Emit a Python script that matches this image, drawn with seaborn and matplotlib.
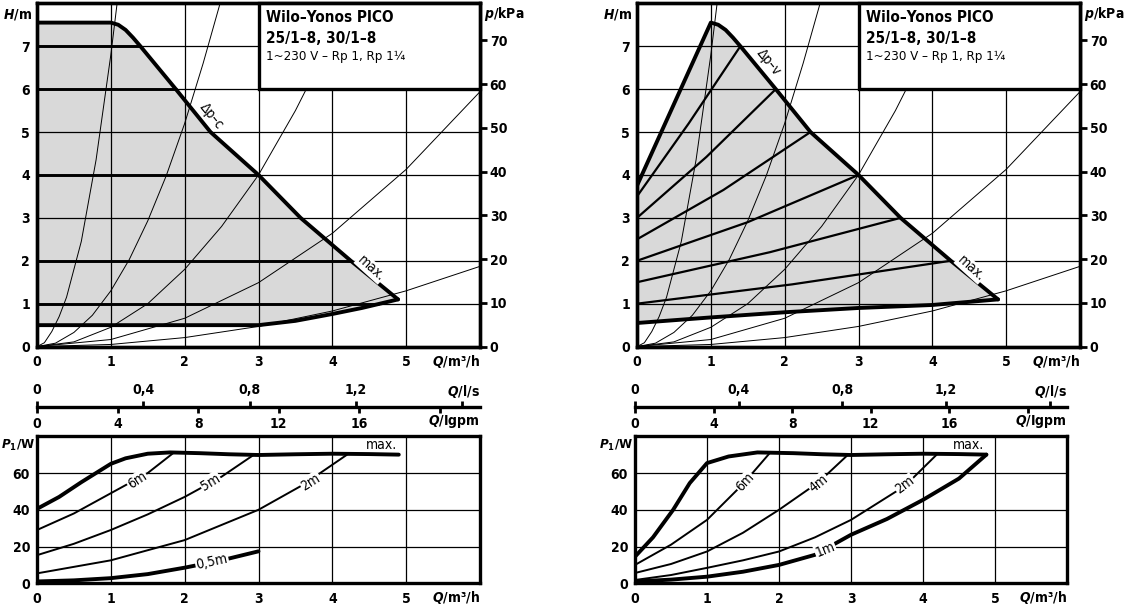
import matplotlib
matplotlib.use("Agg")
import matplotlib.pyplot as plt
import matplotlib.font_manager as fm
from matplotlib.patches import Rectangle
import seaborn as sns

# Anlagenkennlinien (duenne Parabeln), Q in m3/h, H in m
sys_a_q = [0, 0.1, 0.2, 0.3, 0.4, 0.6, 0.8, 1.0, 1.085]
sys_a_h = [0, 0.09, 0.35, 0.7, 1.15, 2.45, 4.35, 6.8, 8.0]
sys_b_q = [0, 0.25, 0.5, 0.75, 1.0, 1.25, 1.5, 1.75, 2.0, 2.25, 2.48]
sys_b_h = [0, 0.08, 0.33, 0.73, 1.3, 2.03, 2.93, 3.98, 5.2, 6.6, 8.0]
sys_c_q = [0, 0.5, 1.0, 1.5, 2.0, 2.5, 3.0, 3.5, 4.0, 4.2]
sys_c_h = [0, 0.11, 0.45, 1.0, 1.8, 2.8, 4.0, 5.5, 7.2, 7.95]
sys_d_q = [0, 1, 2, 3, 4, 5, 6]
sys_d_h = [0, 0.165, 0.66, 1.49, 2.64, 4.13, 5.94]
sys_e_q = [0, 1, 2, 3, 4, 5, 6]
sys_e_h = [0, 0.05, 0.21, 0.47, 0.83, 1.3, 1.87]

# max. Kennlinie (beide Regelarten)
max_q = [1.0, 1.1, 1.2, 1.3, 1.4, 1.88, 2.35, 3.0, 3.57, 4.25, 4.89]
max_h = [7.55, 7.5, 7.38, 7.2, 7.0, 6.0, 5.0, 4.0, 3.0, 2.0, 1.1]

# dp-c: Startpunkt bei Q=0 und untere Grenze
dpc_start_h = 7.55
dpc_low_q = [0, 3.0, 3.5, 4.0, 4.4, 4.89]
dpc_low_h = [0.5, 0.5, 0.6, 0.76, 0.9, 1.1]
dpc_levels = [7, 6, 4, 2, 1]
dpc_ends = [1.4, 1.88, 3.0, 4.25, 4.62]

# dp-v: Startpunkt bei Q=0, untere Grenze, Zwischenkennlinien
dpv_start_h = 3.75
dpv_low_q = [0, 1, 2, 3, 4, 4.89]
dpv_low_h = [0.55, 0.68, 0.8, 0.9, 0.97, 1.1]
dpv_start = [3.5, 3.0, 2.5, 2.0, 1.5, 1.0]
dpv_mid_q = [0.7, 0.94, 1.17, 1.5, 1.8, 2.1]
dpv_mid_h = [5.2, 4.42, 3.65, 2.9, 2.2, 1.45]
dpv_end_q = [1.4, 1.88, 2.35, 3.0, 3.57, 4.25]
dpv_end_h = [7.0, 6.0, 5.0, 4.0, 3.0, 2.0]

# Leistungsaufnahme P1/W, dp-c
pc_max_q = [0, 0.3, 0.6, 0.8, 1.0, 1.2, 1.5, 1.8, 2.2, 2.6, 3.0, 3.5, 4.0, 4.5, 4.9]
pc_max_p = [40.5, 47, 55, 60, 65, 68, 70.5, 71.2, 70.8, 70.2, 69.8, 70.2, 70.5, 70.3, 70]
pc_6m_q = [0, 0.5, 1.0, 1.5, 1.85]
pc_6m_p = [29, 38, 49, 60, 71]
pc_5m_q = [0, 0.5, 1.0, 1.5, 2.0, 2.5, 2.94]
pc_5m_p = [15.3, 21.5, 29, 37.5, 47, 58, 70]
pc_2m_q = [0, 1, 2, 3, 3.6, 4.2]
pc_2m_p = [5.4, 12.5, 23.5, 40, 53.5, 70]
pc_05m_q = [0, 0.5, 1.0, 1.5, 2.0, 2.5, 3.0]
pc_05m_p = [1, 1.6, 2.8, 5, 8.5, 12.5, 17.4]

# Leistungsaufnahme P1/W, dp-v
pv_max_q = [0, 0.25, 0.53, 0.76, 1.0, 1.3, 1.7, 2.2, 2.6, 3.0, 3.5, 4.0, 4.5, 4.88]
pv_max_p = [14.5, 25, 40, 54.5, 65.4, 69, 71.2, 70.8, 70.2, 69.8, 70.2, 70.5, 70.3, 70]
pv_6m_q = [0, 0.5, 1.0, 1.5, 1.875]
pv_6m_p = [10, 21, 34.5, 54, 71]
pv_4m_q = [0, 0.5, 1.0, 1.5, 2.0, 2.55, 2.96]
pv_4m_p = [5.6, 10.5, 17.3, 27.5, 40, 55, 70]
pv_2m_q = [0, 0.5, 1, 1.5, 2, 2.5, 3, 3.75, 4.19]
pv_2m_p = [1.8, 4.5, 8.4, 12.5, 17.3, 25, 34.5, 53, 70]
pv_1m_q = [0, 0.5, 1, 1.5, 2, 2.5, 3, 3.5, 4, 4.5, 4.88]
pv_1m_p = [1, 2, 3.6, 6.3, 10, 15.5, 26.4, 35, 45.4, 57, 70]

# Zusatzachsen
ls_ticks = [0, 0.4, 0.8, 1.2, 1.6]
ls_labels = ["0", "0,4", "0,8", "1,2", ""]
igpm_ticks = [0, 4, 8, 12, 16, 20]
igpm_labels = ["0", "4", "8", "12", "16", ""]
M3H_PER_IGPM = 0.2728
M3H_PER_LS = 3.6
KPA_PER_M = 9.81

FILL = "#d9d9d9"
W, H = 1128, 609

sns.set_theme(style="ticks", rc={
    "axes.edgecolor": "black", "text.color": "black", "xtick.color": "black",
    "ytick.color": "black", "axes.labelcolor": "black", "font.weight": "bold",
})
names = {f.name for f in fm.fontManager.ttflist}
main_font = "Liberation Sans Narrow" if "Liberation Sans Narrow" in names else "DejaVu Sans"
plt.rcParams["font.family"] = [main_font, "DejaVu Sans"]
plt.rcParams["font.stretch"] = "condensed"

fig = plt.figure(figsize=(W / 100, H / 100), dpi=100)


def rect(x0, y0, x1, y1):
    # Pixel-Rechteck -> Figurkoordinaten
    return [x0 / W, 1 - y1 / H, (x1 - x0) / W, (y1 - y0) / H]


def curve(ax, q, v, lw, z=3):
    sns.lineplot(x=q, y=v, ax=ax, color="black", linewidth=lw, sort=False,
                 estimator=None, legend=False, zorder=z)


def frame(ax):
    for s in ax.spines.values():
        s.set_linewidth(2.4)
        s.set_zorder(4)


def head_panel(x0, x1, up_q, up_h, low_q, low_h, inner, mode_txt, mode_xy):
    ax = fig.add_axes(rect(x0, 3.3, x1, 346.6))
    ax.fill(up_q + low_q[::-1], up_h + low_h[::-1], color=FILL, lw=0, zorder=1)
    for q in range(1, 6):
        ax.axvline(q, color="black", lw=0.9, zorder=1.5)
    for h in range(1, 8):
        ax.axhline(h, color="black", lw=0.9, zorder=1.5)
    for q, h in [(sys_a_q, sys_a_h), (sys_b_q, sys_b_h), (sys_c_q, sys_c_h),
                 (sys_d_q, sys_d_h), (sys_e_q, sys_e_h)]:
        curve(ax, q, h, 0.7, 2)
    for q, h, lw in inner:
        curve(ax, q, h, lw, 3)
    curve(ax, up_q, up_h, 2.8, 3.5)
    curve(ax, low_q, low_h, 2.8, 3.5)
    ax.set_xlim(0, 6)
    ax.set_ylim(0, 8)
    ax.set_xticks(range(0, 6))
    ax.set_yticks(range(0, 8))
    ax.tick_params(axis="x", length=0, pad=6, labelsize=10)
    ax.tick_params(axis="y", length=0, pad=5, labelsize=10)
    frame(ax)

    ax2 = ax.twinx()
    ax2.set_ylim(0, 8 * KPA_PER_M)
    ax2.set_yticks(range(0, 80, 10))
    ax2.tick_params(axis="y", right=True, length=5, width=2, pad=2, labelsize=10)
    frame(ax2)

    ax.add_patch(Rectangle((3.0, 6.0), 3.0, 2.0, facecolor="white", edgecolor="black",
                           lw=2.4, zorder=5, clip_on=False))
    ax.text(0.517, 0.958, "Wilo\u2013Yonos PICO", transform=ax.transAxes, fontsize=11,
            va="center", zorder=6)
    ax.text(0.517, 0.897, "25/1\u20138, 30/1\u20138", transform=ax.transAxes, fontsize=11,
            va="center", zorder=6)
    ax.text(0.517, 0.845, "1~230 V \u2013 Rp 1, Rp 1\u00bc", transform=ax.transAxes,
            fontsize=9.5, weight="normal", va="center", zorder=6)

    ax.text(mode_xy[0], mode_xy[1], mode_txt, rotation=-51, fontsize=10,
            weight="normal", ha="center", va="center", zorder=6)
    ax.text(4.52, 1.83, "max.", rotation=-42, fontsize=10, weight="normal",
            ha="center", va="center", zorder=6,
            bbox=dict(facecolor="white", edgecolor="none", pad=0.5))
    ax.text(1.0, -0.042, r"$\mathbfit{Q}$/m³/h", transform=ax.transAxes,
            ha="right", va="center", fontsize=10)
    fig.text((x0 - 34) / W, 1 - 14 / H, r"$\mathbfit{H}$/m", ha="left", va="center", fontsize=10)
    fig.text((x1 + 4) / W, 1 - 14 / H, r"$\mathbfit{p}$/kPa", ha="left", va="center", fontsize=10)
    return ax


def flow_axis(x0, x1):
    ax = fig.add_axes(rect(x0, 406.6, x1, 406.7))
    ax.set_xlim(0, 6)
    for s in ["left", "right", "top"]:
        ax.spines[s].set_visible(False)
    ax.spines["bottom"].set_linewidth(2.4)
    ax.set_yticks([])
    ax.set_xticks([v * M3H_PER_IGPM for v in igpm_ticks], labels=igpm_labels)
    ax.tick_params(axis="x", length=4.5, width=2, pad=3, labelsize=10)
    sec = ax.secondary_xaxis("top", functions=(lambda q: q / M3H_PER_LS,
                                               lambda l: l * M3H_PER_LS))
    sec.set_xticks(ls_ticks, labels=ls_labels)
    sec.tick_params(axis="x", length=4.5, width=2, pad=2.5, labelsize=10)
    sec.spines["top"].set_visible(False)
    fig.text(x1 / W, 1 - 391 / H, r"$\mathbfit{Q}$/l/s", ha="right", va="center", fontsize=10)
    fig.text(x1 / W, 1 - 422 / H, r"$\mathbfit{Q}$/Igpm", ha="right", va="center", fontsize=10)


def power_panel(x0, x1, thin, thick, labels):
    ax = fig.add_axes(rect(x0, 435.7, x1, 583.3))
    for q in range(1, 6):
        ax.axvline(q, color="black", lw=0.9, zorder=1.5)
    for p in [20, 40, 60]:
        ax.axhline(p, color="black", lw=0.9, zorder=1.5)
    for q, p in thin:
        curve(ax, q, p, 1.4, 3)
    for q, p in thick:
        curve(ax, q, p, 2.8, 3.5)
    for txt, xq, yp, rot in labels:
        ax.text(xq, yp, txt, rotation=rot, fontsize=10, weight="normal", ha="center",
                va="center", zorder=6,
                bbox=dict(facecolor="white", edgecolor="none", pad=0.6) if txt != "max." else None)
    ax.set_xlim(0, 6)
    ax.set_ylim(0, 80.3)
    ax.set_xticks(range(0, 6))
    ax.set_yticks([0, 20, 40, 60])
    ax.tick_params(axis="x", length=0, pad=6, labelsize=10)
    ax.tick_params(axis="y", length=0, pad=5, labelsize=10)
    frame(ax)
    ax.text(1.0, -(598 - 583.3) / 147.6, r"$\mathbfit{Q}$/m³/h", transform=ax.transAxes,
            ha="right", va="center", fontsize=10)
    fig.text((x0 - 36) / W, 1 - 445 / H, r"$\mathbfit{P}_\mathbf{1}$/W", ha="left",
             va="center", fontsize=9.5)


# --- dp-c (links) ---
dpc_inner = [([0, e], [lv, lv], 2.1) for lv, e in zip(dpc_levels, dpc_ends)]
head_panel(37, 480, [0] + max_q, [dpc_start_h] + max_h, dpc_low_q, dpc_low_h,
           dpc_inner, "\u0394p\u2013c", (2.37, 5.38))

# --- dp-v (rechts) ---
dpv_inner = [([0, mq, eq], [s, mh, eh], 1.6) for s, mq, mh, eq, eh in
             zip(dpv_start, dpv_mid_q, dpv_mid_h, dpv_end_q, dpv_end_h)]
head_panel(637, 1080, [0] + max_q, [dpv_start_h] + max_h, dpv_low_q, dpv_low_h,
           dpv_inner, "\u0394p\u2013v", (1.78, 6.62))

flow_axis(37, 480)
flow_axis(635, 1067)

power_panel(37, 480,
            [(pc_6m_q, pc_6m_p), (pc_5m_q, pc_5m_p), (pc_2m_q, pc_2m_p)],
            [(pc_max_q, pc_max_p), (pc_05m_q, pc_05m_p)],
            [("6m", 1.36, 56, 33), ("5m", 2.35, 55, 31), ("2m", 3.71, 55, 32),
             ("0,5m", 2.37, 11.5, 12), ("max.", 4.66, 75.5, 0)])
power_panel(635, 1067,
            [(pv_6m_q, pv_6m_p), (pv_4m_q, pv_4m_p), (pv_2m_q, pv_2m_p)],
            [(pv_max_q, pv_max_p), (pv_1m_q, pv_1m_p)],
            [("6m", 1.53, 55, 47), ("4m", 2.55, 54.5, 39), ("2m", 3.75, 53.5, 37),
             ("1m", 2.64, 18.5, 22), ("max.", 4.63, 75.5, 0)])

fig.savefig("out.png", dpi=100)
